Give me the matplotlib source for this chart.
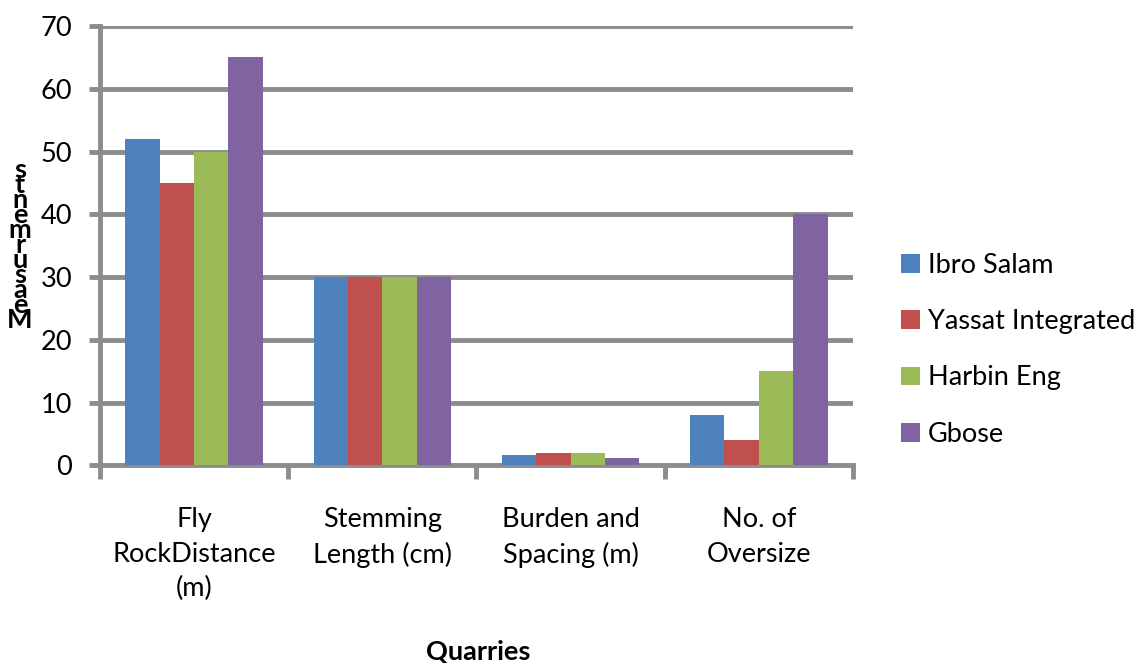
import matplotlib.pyplot as plt
import numpy as np

categories = ['Fly\nRockDistance\n(m)', 'Stemming\nLength (cm)', 'Burden and\nSpacing (m)', 'No. of\nOversize']
series_names = ['Ibro Salam', 'Yassat Integrated', 'Harbin Eng', 'Gbose']
ibro_salam = [52, 30, 1.7, 8]
yassat_integrated = [45, 30, 2, 4]
harbin_eng = [50, 30, 2, 15]
gbose = [65, 30, 1.2, 40]
y_ticks = [0, 10, 20, 30, 40, 50, 60, 70]

colors = ['#4f81bd', '#c0504d', '#9bbb59', '#8064a2']
grid_col = '#8c8c8c'
fs = 19.5

plt.rcParams['font.family'] = ['Lato', 'DejaVu Sans']

fig = plt.figure(figsize=(11.44, 6.63), dpi=100)
ax = fig.add_axes([0.0874, 0.2979, 0.6582, 0.6629])

x = np.arange(len(categories))
width = 0.1825
all_series = [ibro_salam, yassat_integrated, harbin_eng, gbose]
for i, (vals, name) in enumerate(zip(all_series, series_names)):
    ax.bar(x + (i - 1.5) * width, vals, width, color=colors[i], label=name, zorder=3)

ax.set_xlim(-0.5, len(categories) - 0.5)
ax.set_ylim(0, 70)
ax.set_yticks(y_ticks)
ax.yaxis.grid(True, color=grid_col, linewidth=3.5, zorder=1)
ax.set_axisbelow(True)

for s in ['top', 'right']:
    ax.spines[s].set_visible(False)
for s in ['left', 'bottom']:
    ax.spines[s].set_color(grid_col)
    ax.spines[s].set_linewidth(3.5)

# category boundary ticks on x, labels centred in each slot
ax.set_xticks(np.arange(-0.5, len(categories)), minor=False)
ax.set_xticklabels([])
ax.set_xticks(x, minor=True)
ax.set_xticklabels(categories, minor=True, fontsize=fs, linespacing=1.48, va='top')
ax.tick_params(axis='x', which='major', length=10, width=3.5, color=grid_col, direction='out')
ax.tick_params(axis='x', which='minor', length=0, pad=30)
ax.tick_params(axis='y', length=8, width=3.5, color=grid_col, direction='out', labelsize=fs, pad=12)

fig.text(0.418, 0.0166, 'Quarries', ha='center', va='center', fontsize=fs, fontweight='bold')
fig.text(0.0175, 0.63, '\n'.join('stnemrusaeM'), ha='center', va='center',
         fontsize=fs, fontweight='bold', linespacing=0.55)

ax.legend(loc='center left', bbox_to_anchor=(1.031, 0.263), frameon=False, fontsize=fs,
          handlelength=0.7, handleheight=0.7, handletextpad=0.3, labelspacing=1.15)

fig.savefig('out.png', dpi=100)
